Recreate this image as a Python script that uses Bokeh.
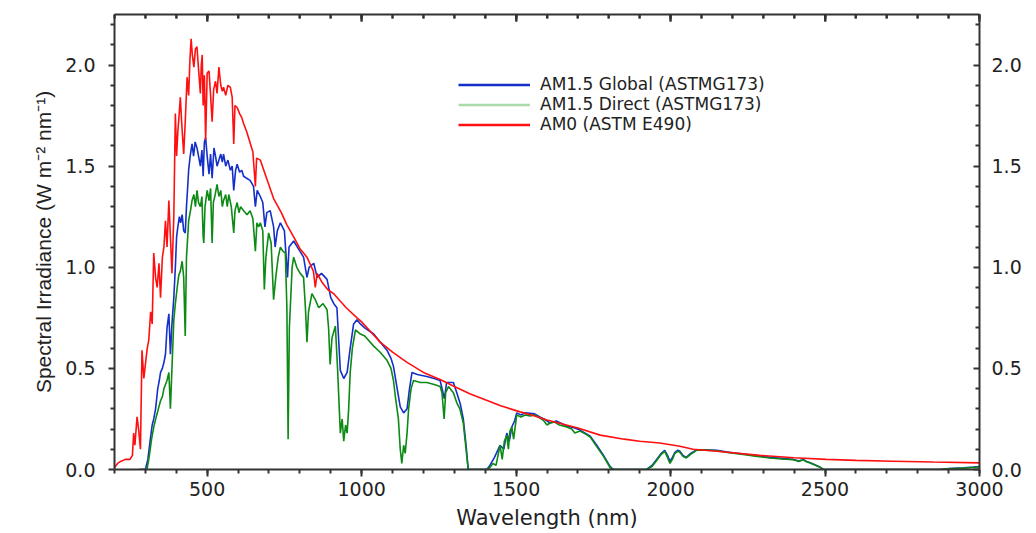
from bokeh.plotting import figure
from bokeh.models import LinearAxis, FixedTicker, PrintfTickFormatter, Legend, LegendItem, Range1d
from bokeh.embed import file_html
from bokeh.resources import INLINE

# ---------------- data ----------------
am0_wl = [200, 210, 220, 235, 250, 258, 262, 266, 273, 278, 284, 289, 295, 300, 306, 311, 317, 322,
          327, 333, 338, 344, 349, 355, 360, 365, 370, 376, 381, 386, 392, 397, 401, 405, 409, 413,
          418, 424, 429, 435, 440, 444, 448, 452, 457, 462, 467, 472, 478, 481, 484, 487, 491, 495,
          500, 506, 511, 516, 521, 527, 532, 538, 544, 549, 553, 560, 567, 575, 581, 586, 590, 597,
          605, 612, 618, 628, 640, 648, 656, 660, 672, 690, 715, 740, 758, 780, 801, 823, 844, 850,
          856, 870, 890, 909, 950, 985, 1000, 1030, 1060, 1100, 1147, 1200, 1254, 1300, 1350, 1400,
          1450, 1513, 1550, 1600, 1650, 1700, 1772, 1850, 1900, 1965, 2030, 2073, 2150, 2288, 2400,
          2504, 2600, 2720, 2850, 3000]
am0_val = [0.01, 0.03, 0.04, 0.05, 0.05, 0.07, 0.18, 0.12, 0.26, 0.20, 0.10, 0.59, 0.45, 0.52, 0.60,
           0.64, 0.78, 0.72, 1.07, 0.95, 0.90, 1.02, 0.85, 1.05, 1.10, 1.23, 1.10, 1.33, 1.15, 0.97,
           1.25, 1.76, 1.55, 1.67, 1.75, 1.84, 1.70, 1.56, 1.72, 1.94, 1.85, 2.02, 2.13, 2.05, 1.99,
           2.08, 2.09, 1.98, 1.86, 2.00, 2.05, 1.80, 1.95, 1.63, 1.96, 1.97, 1.85, 1.72, 1.88, 1.92,
           1.86, 1.99, 1.90, 1.87, 1.89, 1.85, 1.90, 1.89, 1.84, 1.61, 1.80, 1.79, 1.76, 1.74, 1.71,
           1.67, 1.61, 1.57, 1.40, 1.54, 1.53, 1.45, 1.34, 1.27, 1.21, 1.15, 1.09, 1.05, 0.98, 0.90,
           0.97, 0.93, 0.89, 0.87, 0.80, 0.75, 0.73, 0.68, 0.63, 0.58, 0.53, 0.48, 0.445, 0.41, 0.375,
           0.345, 0.315, 0.285, 0.27, 0.245, 0.225, 0.205, 0.17, 0.15, 0.14, 0.131, 0.115, 0.10, 0.09,
           0.07, 0.058, 0.05, 0.045, 0.041, 0.037, 0.033]

glob_wl = [280, 300, 308, 316, 322, 327, 333, 340, 345, 349, 355, 360, 365, 370, 376, 381, 386, 392,
           397, 401, 405, 410, 414, 419, 424, 429, 433, 437, 440, 445, 451, 456, 461, 467, 472, 478,
           483, 487, 491, 495, 500, 506, 511, 516, 522, 527, 532, 538, 544, 549, 553, 560, 567, 575,
           581, 586, 592, 597, 605, 612, 618, 628, 639, 650, 656, 662, 672, 680, 687, 693, 704, 715,
           720, 727, 737, 750, 760, 765, 780, 800, 812, 823, 830, 845, 856, 870, 888, 900, 910, 920,
           931, 942, 953, 963, 974, 985, 996, 1010, 1039, 1060, 1082, 1095, 1103, 1115, 1125, 1136,
           1147, 1155, 1163, 1180, 1211, 1235, 1254, 1268, 1275, 1297, 1308, 1320, 1329, 1338, 1345,
           1405, 1415, 1430, 1448, 1460, 1470, 1478, 1486, 1495, 1502, 1515, 1530, 1560, 1577, 1590,
           1610, 1630, 1664, 1690, 1707, 1740, 1761, 1783, 1804, 1815, 1922, 1940, 1955, 1970, 1981,
           1990, 1998, 2006, 2014, 2024, 2030, 2040, 2051, 2065, 2084, 2110, 2149, 2190, 2235, 2280,
           2321, 2360, 2396, 2415, 2429, 2440, 2450, 2483, 2495, 2870, 2900, 2950, 2980, 3000]
glob_val = [0.0, 0.0, 0.05, 0.15, 0.22, 0.25, 0.30, 0.40, 0.44, 0.48, 0.50, 0.53, 0.57, 0.70, 0.77,
            0.57, 0.72, 0.85, 1.00, 1.15, 1.20, 1.25, 1.22, 1.26, 1.18, 1.17, 1.30, 1.40, 1.48, 1.55,
            1.61, 1.55, 1.62, 1.59, 1.55, 1.50, 1.58, 1.45, 1.62, 1.64, 1.55, 1.46, 1.56, 1.44, 1.59,
            1.55, 1.50, 1.53, 1.56, 1.52, 1.56, 1.50, 1.53, 1.48, 1.50, 1.38, 1.48, 1.51, 1.47, 1.48,
            1.45, 1.44, 1.43, 1.40, 1.30, 1.38, 1.35, 1.32, 1.20, 1.27, 1.28, 1.20, 1.10, 1.18, 1.22,
            1.18, 0.95, 1.10, 1.13, 1.08, 1.05, 0.95, 1.00, 1.02, 0.95, 0.97, 0.94, 0.85, 0.82, 0.80,
            0.49, 0.45, 0.48, 0.60, 0.72, 0.74, 0.72, 0.70, 0.67, 0.63, 0.59, 0.55, 0.51, 0.40, 0.31,
            0.28, 0.30, 0.40, 0.48, 0.47, 0.46, 0.45, 0.44, 0.35, 0.43, 0.43, 0.38, 0.32, 0.25, 0.12,
            0.0, 0.0, 0.02, 0.06, 0.12, 0.10, 0.18, 0.14, 0.21, 0.24, 0.28, 0.27, 0.28, 0.275, 0.26,
            0.25, 0.23, 0.24, 0.215, 0.205, 0.195, 0.165, 0.12, 0.07, 0.015, 0.0, 0.0, 0.02, 0.05,
            0.08, 0.095, 0.07, 0.04, 0.06, 0.085, 0.095, 0.09, 0.07, 0.06, 0.08, 0.097, 0.098, 0.095,
            0.085, 0.077, 0.068, 0.06, 0.055, 0.05, 0.042, 0.05, 0.04, 0.035, 0.012, 0.0, 0.0, 0.005,
            0.008, 0.012, 0.015]

dir_wl = [280, 305, 312, 320, 327, 335, 342, 349, 355, 360, 365, 370, 376, 381, 386, 392, 397, 403,
          408, 413, 419, 424, 429, 433, 437, 440, 446, 451, 457, 462, 467, 472, 478, 483, 487, 489,
          493, 500, 506, 511, 516, 520, 526, 532, 538, 544, 549, 553, 560, 565, 570, 578, 586, 590,
          597, 603, 608, 618, 629, 639, 648, 656, 661, 667, 672, 680, 685, 690, 699, 707, 715, 722,
          730, 737, 745, 753, 758, 762, 766, 775, 780, 790, 801, 812, 818, 823, 828, 839, 850, 861,
          875, 888, 893, 898, 904, 915, 922, 931, 937, 942, 948, 953, 958, 963, 970, 980, 996, 1010,
          1039, 1060, 1082, 1095, 1103, 1110, 1119, 1125, 1130, 1136, 1141, 1147, 1152, 1160, 1168,
          1190, 1211, 1235, 1254, 1260, 1267, 1272, 1281, 1297, 1308, 1318, 1329, 1338, 1345, 1405,
          1415, 1425, 1435, 1448, 1455, 1462, 1470, 1475, 1480, 1486, 1492, 1502, 1515, 1530, 1545,
          1560, 1577, 1590, 1600, 1610, 1625, 1640, 1664, 1680, 1690, 1707, 1725, 1740, 1761, 1783,
          1804, 1815, 1922, 1940, 1955, 1970, 1981, 1990, 1998, 2006, 2014, 2024, 2030, 2040, 2051,
          2065, 2084, 2110, 2149, 2190, 2235, 2280, 2321, 2360, 2396, 2415, 2429, 2440, 2450, 2483,
          2495, 2870, 2900, 2950, 2980, 3000]
dir_val = [0.0, 0.0, 0.06, 0.15, 0.21, 0.26, 0.30, 0.34, 0.36, 0.40, 0.42, 0.44, 0.48, 0.30, 0.50,
           0.74, 0.82, 0.90, 0.96, 0.98, 1.03, 0.95, 0.66, 1.05, 1.15, 1.23, 1.28, 1.33, 1.36, 1.30,
           1.38, 1.32, 1.30, 1.35, 1.15, 1.12, 1.30, 1.38, 1.33, 1.39, 1.12, 1.32, 1.36, 1.41, 1.35,
           1.38, 1.30, 1.33, 1.36, 1.30, 1.36, 1.30, 1.17, 1.28, 1.32, 1.27, 1.30, 1.28, 1.26, 1.28,
           1.24, 1.08, 1.22, 1.20, 1.22, 1.18, 0.89, 1.05, 1.17, 1.12, 0.84, 0.95, 1.05, 1.10, 1.08,
           1.07, 0.80, 0.15, 0.70, 1.00, 1.05, 1.00, 0.97, 0.95, 0.80, 0.63, 0.78, 0.87, 0.84, 0.80,
           0.82, 0.79, 0.70, 0.52, 0.65, 0.71, 0.50, 0.18, 0.25, 0.14, 0.22, 0.18, 0.30, 0.48, 0.60,
           0.69, 0.67, 0.66, 0.61, 0.58, 0.54, 0.50, 0.44, 0.35, 0.25, 0.10, 0.03, 0.12, 0.08, 0.18,
           0.30, 0.40, 0.44, 0.43, 0.43, 0.42, 0.41, 0.38, 0.25, 0.38, 0.41, 0.38, 0.33, 0.30, 0.23,
           0.10, 0.0, 0.0, 0.01, 0.03, 0.02, 0.12, 0.05, 0.14, 0.17, 0.10, 0.19, 0.21, 0.15, 0.27,
           0.26, 0.27, 0.265, 0.27, 0.255, 0.24, 0.22, 0.23, 0.235, 0.22, 0.21, 0.20, 0.18, 0.19,
           0.175, 0.16, 0.113, 0.065, 0.01, 0.0, 0.0, 0.015, 0.045, 0.075, 0.09, 0.06, 0.03, 0.05,
           0.08, 0.09, 0.085, 0.065, 0.057, 0.075, 0.095, 0.096, 0.093, 0.083, 0.074, 0.065, 0.057,
           0.052, 0.049, 0.04, 0.048, 0.038, 0.033, 0.012, 0.0, 0.0, 0.004, 0.007, 0.01, 0.012]

x_major = [500, 1000, 1500, 2000, 2500, 3000]
x_minor = list(range(200, 3001, 100))
y_major = [0.0, 0.5, 1.0, 1.5, 2.0]
y_minor = [0.1, 0.2, 0.3, 0.4, 0.6, 0.7, 0.8, 0.9, 1.1, 1.2, 1.3, 1.4, 1.6, 1.7, 1.8, 1.9, 2.1, 2.2]

series_names = ["AM1.5 Global (ASTMG173)", "AM1.5 Direct (ASTMG173)", "AM0 (ASTM E490)"]

# ---------------- styling ----------------
BLUE = "#1530c8"
GREEN = "#0c8a14"
RED = "#ff1010"
PALE_GREEN = "#aadcaa"
AX = "#333333"
TXT = "#222222"
TICK_FONT = "DejaVu Sans"
NAN = float("nan")
X0, X1 = 200, 3000
Y0, Y1 = 0, 2.25
FRAME_H = 456  # px, plot frame height
MAJ_LEN = 7 * (Y1 - Y0) / FRAME_H   # 7 px expressed in data units
MIN_LEN = 4 * (Y1 - Y0) / FRAME_H   # 4 px expressed in data units

p = figure(width=1030, height=532, output_backend="svg", toolbar_location=None,
           x_range=Range1d(X0, X1), y_range=Range1d(Y0, Y1),
           min_border_left=114, min_border_right=51, min_border_top=14, min_border_bottom=62,
           x_axis_type=None, y_axis_type=None)
p.xgrid.visible = False
p.ygrid.visible = False
p.outline_line_color = None
p.background_fill_color = "white"
p.border_fill_color = "white"

xt = FixedTicker(ticks=x_major, minor_ticks=x_minor)
yt = FixedTicker(ticks=y_major, minor_ticks=y_minor)


def style(ax, tick_in, tick_out, standoff, fsize="19px"):
    ax.axis_line_color = AX
    ax.axis_line_width = 2
    ax.major_tick_line_color = AX
    ax.minor_tick_line_color = AX
    ax.major_tick_line_width = 2
    ax.minor_tick_line_width = 2
    ax.major_tick_in = tick_in[0]
    ax.major_tick_out = tick_out[0]
    ax.minor_tick_in = tick_in[1]
    ax.minor_tick_out = tick_out[1]
    ax.major_label_standoff = standoff
    ax.major_label_text_font = TICK_FONT
    ax.major_label_text_font_size = fsize
    ax.major_label_text_color = TXT


bottom = LinearAxis(ticker=xt, axis_label="Wavelength (nm)")
style(bottom, (0, 0), (7, 4), 5)
bottom.axis_label_text_font = "DejaVu Sans"
bottom.axis_label_text_font_size = "21px"
bottom.axis_label_text_font_style = "normal"
bottom.axis_label_text_color = TXT
bottom.axis_label_standoff = 7
p.add_layout(bottom, "below")

top = LinearAxis(ticker=xt)
style(top, (7, 4), (0, 0), 0, "10px")
top.major_label_text_color = None
p.add_layout(top, "above")

left = LinearAxis(ticker=yt, formatter=PrintfTickFormatter(format="%.1f"),
                  axis_label="Spectral Irradiance (W m\u207b\u00b2 nm\u207b\u00b9)")
style(left, (0, 0), (6, 4), 13)
left.axis_label_text_font = "Liberation Sans"
left.axis_label_text_font_size = "21px"
left.axis_label_text_font_style = "normal"
left.axis_label_text_color = TXT
left.axis_label_standoff = 7
p.add_layout(left, "left")

right = LinearAxis(ticker=yt, formatter=PrintfTickFormatter(format="%.1f"))
style(right, (6, 4), (0, 0), 12)
p.add_layout(right, "right")

# inward tick marks hanging from the top frame edge
p.segment(x0=x_minor, y0=[Y1] * len(x_minor), x1=x_minor, y1=[Y1 - MIN_LEN] * len(x_minor),
          line_color=AX, line_width=2)
p.segment(x0=x_major, y0=[Y1] * len(x_major), x1=x_major, y1=[Y1 - MAJ_LEN] * len(x_major),
          line_color=AX, line_width=2)

# ---------------- data lines ----------------
p.line(glob_wl, glob_val, line_color=BLUE, line_width=1.6)
p.line(dir_wl, dir_val, line_color=GREEN, line_width=1.6)
p.line(am0_wl, am0_val, line_color=RED, line_width=1.6)

# legend swatches (legend only, no visible data)
lg_b = p.line(x=[NAN], y=[NAN], line_color=BLUE, line_width=2.5)
lg_g = p.line(x=[NAN], y=[NAN], line_color=PALE_GREEN, line_width=2.5)
lg_r = p.line(x=[NAN], y=[NAN], line_color=RED, line_width=2.5)

legend = Legend(items=[LegendItem(label=series_names[0], renderers=[lg_b]),
                       LegendItem(label=series_names[1], renderers=[lg_g]),
                       LegendItem(label=series_names[2], renderers=[lg_r])],
                location=(344, 335), glyph_width=72, glyph_height=17, label_height=17,
                label_standoff=10, padding=0, margin=0, spacing=0,
                border_line_color=None, background_fill_alpha=0,
                label_text_font="DejaVu Sans", label_text_font_size="17px",
                label_text_color=TXT)
p.add_layout(legend, "center")

open("out.html", "w").write(file_html(p, INLINE))
